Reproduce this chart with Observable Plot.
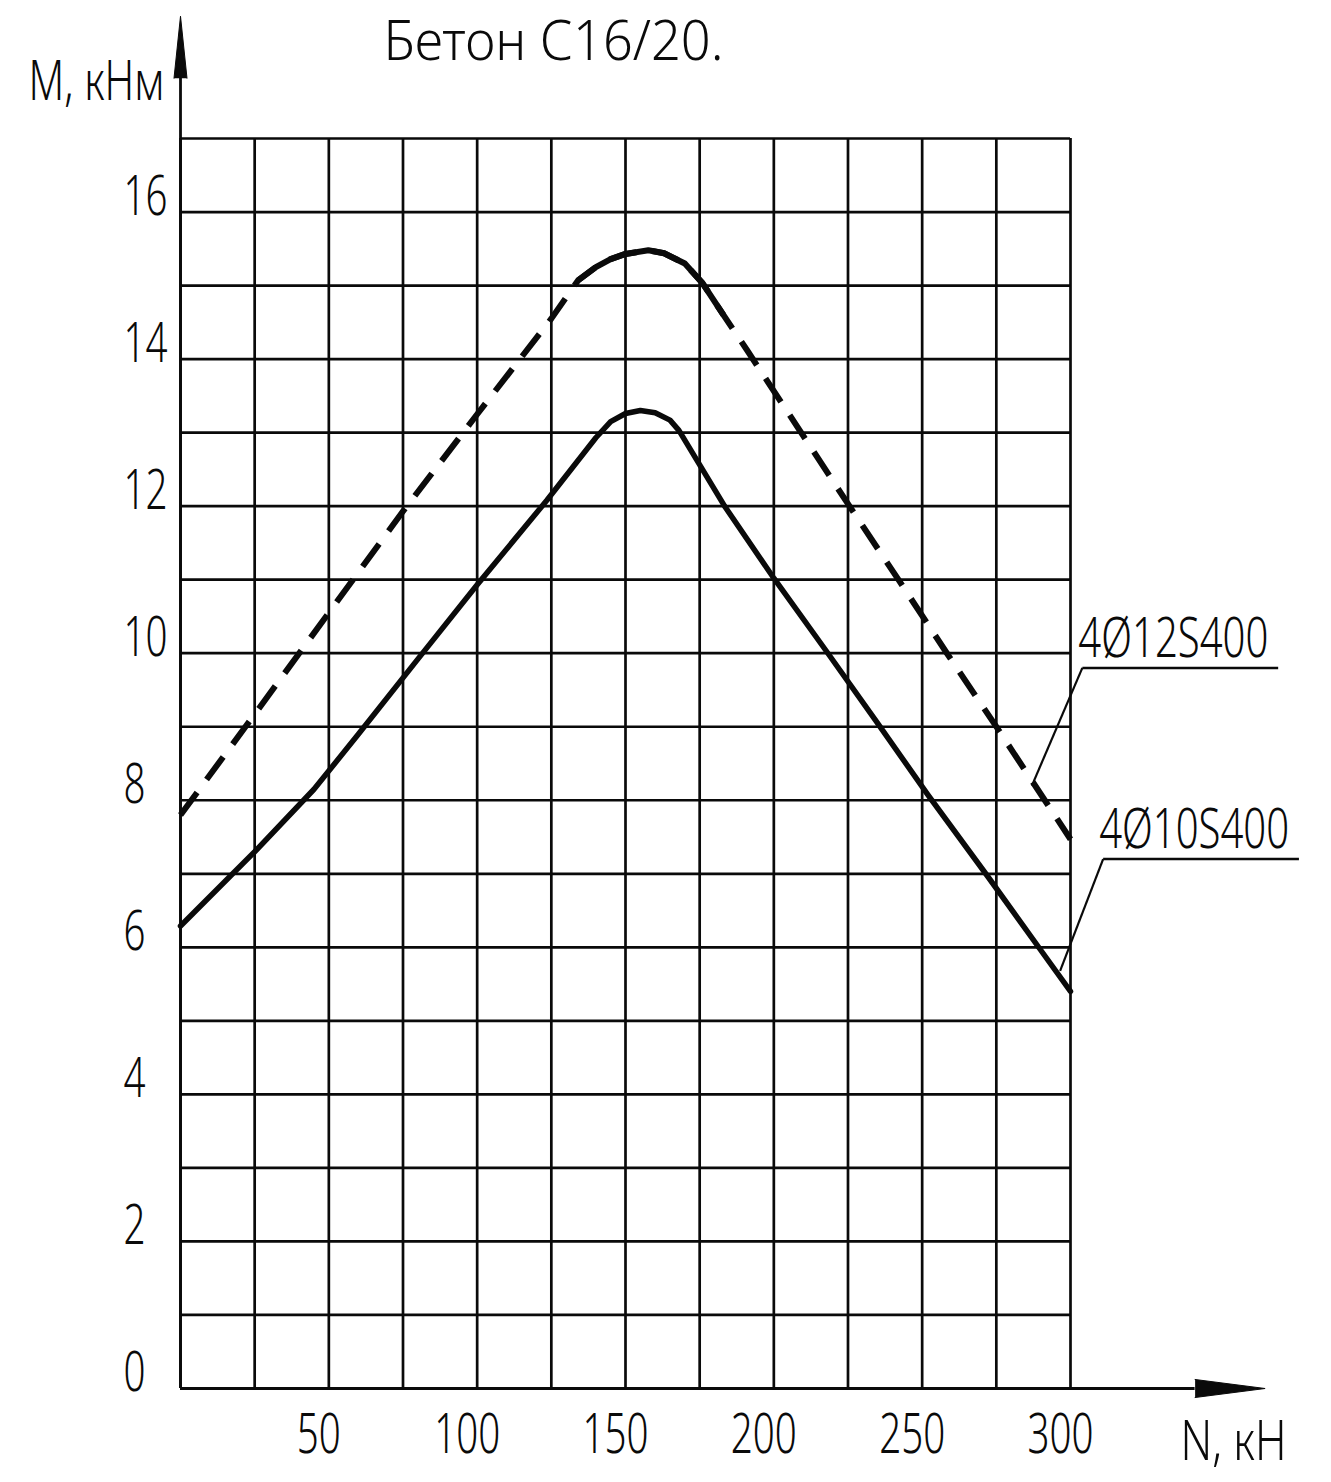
<!DOCTYPE html>
<html>
<head>
<meta charset="utf-8">
<script src="https://cdn.jsdelivr.net/npm/d3@7"></script>
<script src="https://cdn.jsdelivr.net/npm/@observablehq/plot@0.6"></script>
<style>
  body { margin: 0; background: #fff; }
  #chart svg { display: block; font-stretch: 62.5%; font-weight: 300; }
</style>
</head>
<body>
<div id="chart"></div>
<script>
// ---- text ----
const title = "Бетон С16/20.";
const xLabel = "N, кН";
const yLabel = "M, кНм";

// ---- ticks & grid ----
const xTicks = [50, 100, 150, 200, 250, 300];
const yTicks = [0, 2, 4, 6, 8, 10, 12, 14, 16];
const gridN = [0, 25, 50, 75, 100, 125, 150, 175, 200, 225, 250, 275, 300];
const gridM = [0, 1, 2, 3, 4, 5, 6, 7, 8, 9, 10, 11, 12, 13, 14, 15, 16, 17];

// ---- series: 4Ø12S400 (dashed curve) ----
const s12N = [0, 25, 50, 75, 100, 125, 134, 140, 145, 150, 157.7, 163, 170, 176, 183, 191, 198.3, 211, 225, 242, 258, 275.5, 291.5, 300];
const s12M = [7.8, 9.17, 10.55, 11.93, 13.25, 14.55, 15.07, 15.25, 15.36, 15.43, 15.48, 15.44, 15.3, 15.03, 14.6, 14.12, 13.67, 12.89, 12.03, 11.0, 10.02, 8.97, 7.99, 7.47];
// part of the dashed curve drawn continuous over the peak
const s12PeakFrom = 134;
const s12PeakTo = 183;

// ---- series: 4Ø10S400 (solid curve) ----
const s10N = [0, 25, 45, 60, 80, 100, 123.5, 140, 145, 150, 155, 160, 165, 168, 183.4, 200, 217.5, 234.6, 252, 272, 290, 300];
const s10M = [6.29, 7.3, 8.15, 8.9, 9.92, 10.93, 12.08, 12.93, 13.15, 13.26, 13.3, 13.27, 13.17, 13.03, 12.0, 11.02, 10.04, 9.07, 8.07, 6.97, 5.96, 5.4];

// ---- curve labels (leader lines) ----
const labelNames = ["4Ø12S400", "4Ø10S400"];
const labelN = [304, 311];
const labelM = [9.8, 7.2];
const labelEndN = [370, 377];
const pointN = [287, 296.5];
const pointM = [8.2, 5.68];

// ---- axis extents (arrows) ----
const yArrowBase = 17.82;
const xArrowBase = 342;

// build tables
const s12 = s12N.map((n, i) => ({N: n, M: s12M[i]}));
const s12Peak = s12.filter(d => d.N >= s12PeakFrom && d.N <= s12PeakTo);
const s10 = s10N.map((n, i) => ({N: n, M: s10M[i]}));
const labels = labelNames.map((name, i) => ({
  name, N: labelN[i], M: labelM[i], Nend: labelEndN[i], pN: pointN[i], pM: pointM[i]
}));

const ink = "#0a0a0a";
const font = "'Noto Sans', 'DejaVu Sans', sans-serif";
const fs = 55;

const chart = Plot.plot({
  width: 1331,
  height: 1482,
  marginLeft: 180,
  marginRight: 261,
  marginTop: 138,
  marginBottom: 94,
  x: {domain: [0, 300]},
  y: {domain: [0, 17]},
  style: {fontFamily: font, fontSize: fs + "px", color: ink, background: "#fff", overflow: "visible"},
  marks: [
    // grid
    Plot.ruleX(gridN, {stroke: ink, strokeWidth: 2.7}),
    Plot.ruleY(gridM, {stroke: ink, strokeWidth: 2.7}),
    // axes with arrows
    Plot.ruleX([0], {y1: 0, y2: yArrowBase, stroke: ink, strokeWidth: 2.8}),
    Plot.ruleY([0], {x1: 0, x2: xArrowBase, stroke: ink, strokeWidth: 3.2}),
    Plot.vector([0], {x: 0, y: yArrowBase, length: 62, r: 6.5, shape: "spike", anchor: "start", rotate: 0, fill: ink, stroke: ink, strokeWidth: 1}),
    Plot.vector([0], {x: xArrowBase, y: 0, length: 70, r: 9, shape: "spike", anchor: "start", rotate: 90, fill: ink, stroke: ink, strokeWidth: 1}),
    // tick labels
    Plot.axisX(xTicks, {tickSize: 0, tickPadding: 25, dx: -10, label: null, fontSize: fs, tickFormat: d3.format("d")}),
    Plot.axisY(yTicks, {tickSize: 0, tickPadding: 57, textAnchor: "start", dy: -15, label: null, fontSize: fs, tickFormat: d3.format("d")}),
    // axis titles and chart title
    Plot.text([yLabel], {frameAnchor: "top-left", textAnchor: "start", lineAnchor: "top", dx: -152, dy: -78, fontSize: fs}),
    Plot.text([xLabel], {frameAnchor: "bottom-right", textAnchor: "start", lineAnchor: "top", dx: 110, dy: 32, fontSize: fs}),
    Plot.text([title], {frameAnchor: "top-left", textAnchor: "start", lineAnchor: "top", dx: 203, dy: -118, fontSize: fs}),
    // curves
    Plot.line(s10, {x: "N", y: "M", stroke: ink, strokeWidth: 5.5, strokeLinejoin: "round", strokeLinecap: "round"}),
    Plot.line(s12, {x: "N", y: "M", stroke: ink, strokeWidth: 6, strokeDasharray: "28,16", strokeLinecap: "butt"}),
    Plot.line(s12Peak, {x: "N", y: "M", stroke: ink, strokeWidth: 6, strokeLinejoin: "round", strokeLinecap: "butt"}),
    // labels with leader lines
    Plot.link(labels, {x1: "N", y1: "M", x2: "Nend", y2: "M", stroke: ink, strokeWidth: 2.5}),
    Plot.link(labels, {x1: "N", y1: "M", x2: "pN", y2: "pM", stroke: ink, strokeWidth: 2.2}),
    Plot.text(labels, {x: "N", y: "M", text: "name", textAnchor: "start", lineAnchor: "top", dx: -4, dy: -50, fontSize: fs})
  ]
});
document.getElementById("chart").append(chart);

// narrow drafting-style lettering: condense texts horizontally to the widths
// they have in the reference drawing
const svgEl = chart.tagName.toLowerCase() === "svg" ? chart : chart.querySelector("svg");
const texts = Array.from(svgEl.querySelectorAll("text"));
const targetWidth = new Map([[title, 340], [yLabel, 136], [xLabel, 106], [labelNames[0], 190], [labelNames[1], 190]]);
const sample = texts.find(t => t.textContent === "16");
const kTicks = sample ? Math.min(1, 44 / sample.getBBox().width) : 1;
texts.forEach(t => {
  const txt = t.textContent;
  const w = t.getBBox().width;
  const k = targetWidth.has(txt) ? Math.min(1, targetWidth.get(txt) / w) : kTicks;
  const tr = t.getAttribute("transform") || "";
  const x = +t.getAttribute("x") || 0;
  const y = +t.getAttribute("y") || 0;
  t.setAttribute("transform", `${tr} translate(${x},${y}) scale(${k},1) translate(${-x},${-y})`);
});
</script>
</body>
</html>
